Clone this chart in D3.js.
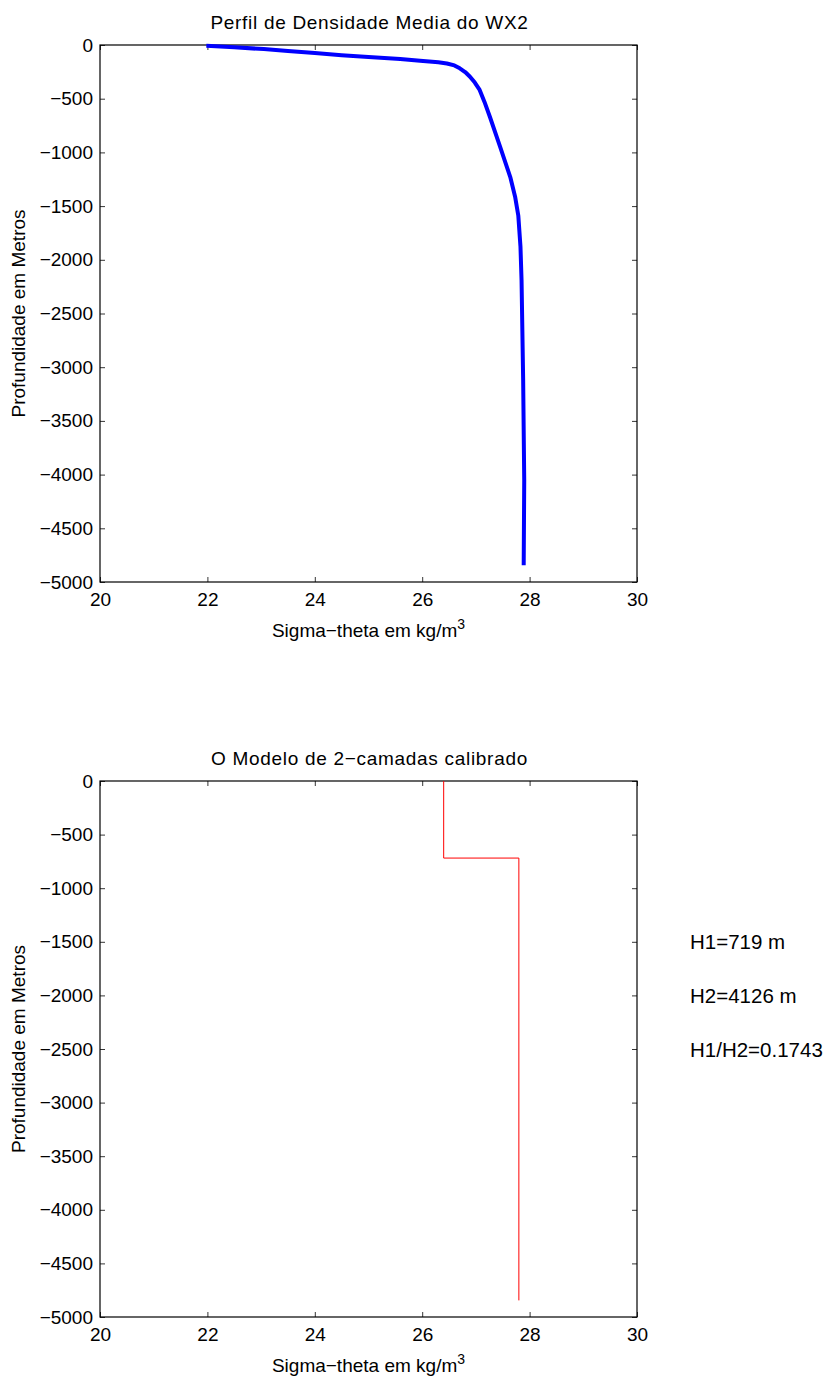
<!DOCTYPE html>
<html>
<head>
<meta charset="utf-8">
<script src="https://cdn.jsdelivr.net/npm/d3@7"></script>
<style>
  html, body { margin: 0; padding: 0; background: #fff; }
  svg { display: block; font-family: "Liberation Sans", Arial, Helvetica, sans-serif; }
</style>
</head>
<body>
<svg id="fig" width="828" height="1379"></svg>
<script>
// Mean sigma-theta profile (kg/m^3) against depth (m)
const profileSigma = [21.98, 22.5, 23.05, 23.5, 24.0, 24.5, 25.0, 25.59, 25.96, 26.3, 26.46, 26.6, 26.7, 26.8, 26.89, 26.98, 27.07, 27.16, 27.26, 27.45, 27.64, 27.73, 27.79, 27.83, 27.85, 27.88, 27.9, 27.89];
const profileDepth = [-8, -22, -38, -55, -75, -95, -112, -130, -146, -160, -172, -190, -217, -252, -295, -350, -418, -530, -668, -947, -1230, -1412, -1590, -1878, -2188, -3119, -4050, -4845];

// Calibrated two-layer model
const layerThickness = [719, 4126];      // H1, H2 in metres
const layerSigma = [26.4, 27.8];         // sigma-theta of each layer

// Axis ticks
const xTicks = [20, 22, 24, 26, 28, 30];
const yTicks = [0, -500, -1000, -1500, -2000, -2500, -3000, -3500, -4000, -4500, -5000];

const svg = d3.select("#fig");
const FONT = 19;
const fmtTick = d => (d < 0 ? "\u2212" + Math.abs(d) : String(d));

function drawAxes(top, height, title) {
  const left = 100, width = 537;
  const x = d3.scaleLinear().domain([20, 30]).range([left, left + width]);
  const y = d3.scaleLinear().domain([-5000, 0]).range([top + height, top]);
  const g = svg.append("g");

  // box
  g.append("rect").attr("x", left).attr("y", top).attr("width", width).attr("height", height)
    .attr("fill", "none").attr("stroke", "#000").attr("stroke-width", 1.2);

  // inward ticks on all four sides
  const tl = 5;
  g.append("g").attr("transform", `translate(0,${top + height})`)
    .call(d3.axisBottom(x).tickValues(xTicks).tickSize(-tl).tickPadding(11).tickFormat(fmtTick))
    .call(a => a.select(".domain").remove());
  g.append("g").attr("transform", `translate(0,${top})`)
    .call(d3.axisTop(x).tickValues(xTicks).tickSize(-tl).tickFormat(""))
    .call(a => a.select(".domain").remove());
  g.append("g").attr("transform", `translate(${left},0)`)
    .call(d3.axisLeft(y).tickValues(yTicks).tickSize(-tl).tickPadding(7).tickFormat(fmtTick))
    .call(a => a.select(".domain").remove());
  g.append("g").attr("transform", `translate(${left + width},0)`)
    .call(d3.axisRight(y).tickValues(yTicks).tickSize(-tl).tickFormat(""))
    .call(a => a.select(".domain").remove());

  g.selectAll(".tick line").attr("stroke", "#000").attr("stroke-width", 0.8);
  g.selectAll(".tick text").attr("fill", "#000")
    .style("font-size", FONT + "px").style("font-family", "'Liberation Sans', Arial, sans-serif");

  // title
  g.append("text").attr("x", left + width / 2 + 1).attr("y", top - 16)
    .attr("text-anchor", "middle").style("font-size", FONT + "px")
    .style("letter-spacing", "0.7px").text(title);

  // x label with superscript
  const xl = g.append("text").attr("x", left + width / 2).attr("y", top + height + 55)
    .attr("text-anchor", "middle").style("font-size", FONT + "px");
  xl.append("tspan").text("Sigma\u2212theta em kg/m");
  xl.append("tspan").attr("dy", -8).style("font-size", "14px").text("3");

  // y label
  g.append("text")
    .attr("transform", `translate(25,${top + height / 2}) rotate(-90)`)
    .attr("text-anchor", "middle").style("font-size", FONT + "px")
    .text("Profundidade em Metros");

  return { x, y, g };
}

// --- Upper panel: observed density profile
const p1 = drawAxes(45, 537, "Perfil de Densidade Media do WX2");
const profile = profileSigma.map((s, i) => [s, profileDepth[i]]);
p1.g.append("path").datum(profile)
  .attr("fill", "none").attr("stroke", "#0000ff").attr("stroke-width", 4)
  .attr("stroke-linejoin", "round")
  .attr("d", d3.line().x(d => p1.x(d[0])).y(d => p1.y(d[1])));

// --- Lower panel: calibrated two-layer model
const p2 = drawAxes(781, 536, "O Modelo de 2\u2212camadas calibrado");
const H1 = layerThickness[0], H2 = layerThickness[1];
const steps = [
  [layerSigma[0], 0],
  [layerSigma[0], -H1],
  [layerSigma[1], -H1],
  [layerSigma[1], -(H1 + H2)]
];
p2.g.append("path").datum(steps)
  .attr("fill", "none").attr("stroke", "#ff0000").attr("stroke-width", 1)
  .attr("d", d3.line().x(d => p2.x(d[0])).y(d => p2.y(d[1])));

// layer annotations
const notes = [
  `H1=${H1} m`,
  `H2=${H2} m`,
  `H1/H2=${(H1 / H2).toFixed(4)}`
];
svg.append("g").selectAll("text").data(notes).join("text")
  .attr("x", 690).attr("y", (d, i) => 949 + i * 54)
  .style("font-size", "20.5px").text(d => d);
</script>
</body>
</html>
